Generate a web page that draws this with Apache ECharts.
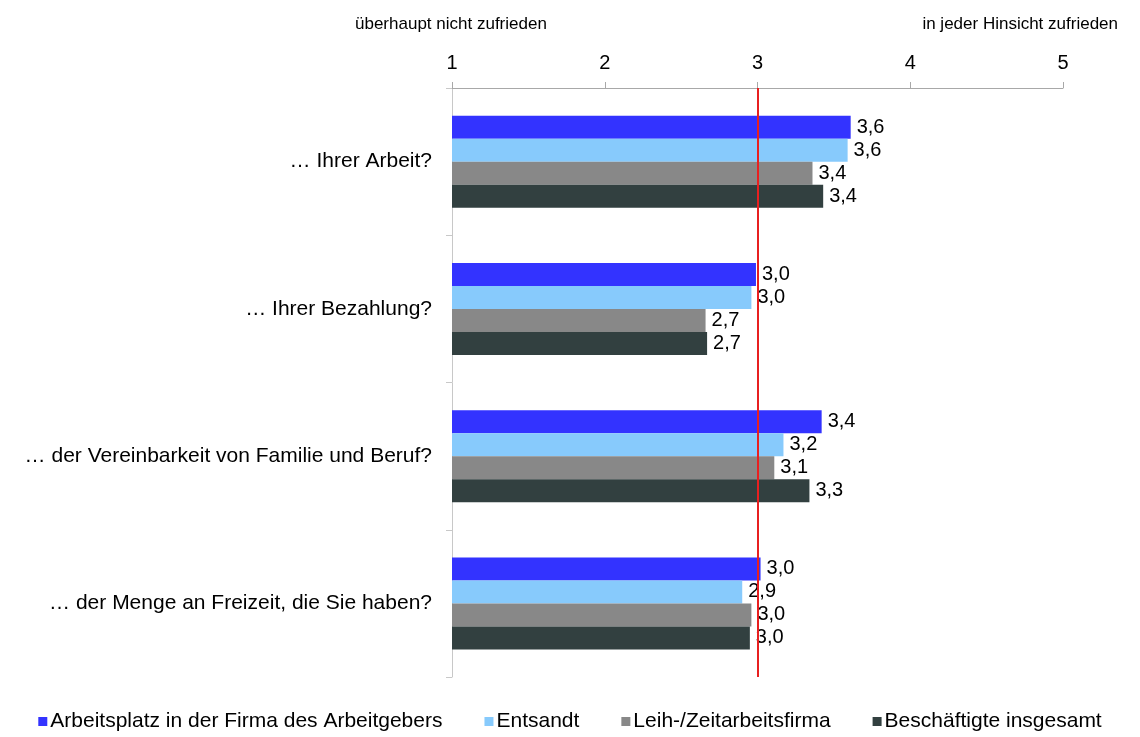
<!DOCTYPE html>
<html>
<head>
<meta charset="utf-8">
<script src="https://cdn.jsdelivr.net/npm/echarts@6/dist/echarts.min.js"></script>
<style>
  html, body { margin: 0; padding: 0; background: #fff; }
  #chart { width: 1140px; height: 737px; }
</style>
</head>
<body>
<div id="chart"></div>
<script>
const categories = [
  '… Ihrer Arbeit?',
  '… Ihrer Bezahlung?',
  '… der Vereinbarkeit von Familie und Beruf?',
  '… der Menge an Freizeit, die Sie haben?'
];
const seriesNames = [
  'Arbeitsplatz in der Firma des Arbeitgebers',
  'Entsandt',
  'Leih-/Zeitarbeitsfirma',
  'Beschäftigte insgesamt'
];
const arbeitsplatz = [3.61, 2.99, 3.42, 3.02];
const entsandt = [3.59, 2.96, 3.17, 2.90];
const leih = [3.36, 2.66, 3.11, 2.96];
const gesamt = [3.43, 2.67, 3.34, 2.95];
const colors = ['#3333ff', '#87cafc', '#888888', '#324040'];
const axisTicks = ['1', '2', '3', '4', '5'];
const refValue = 3;

const chart = echarts.init(document.getElementById('chart'));
const font = 'Liberation Sans, Arial, sans-serif';
const values = [arbeitsplatz, entsandt, leih, gesamt];

const series = values.map((data, i) => {
  const s = {
    name: seriesNames[i],
    type: 'bar',
    data: data,
    barWidth: 23,
    barGap: '0%',
    itemStyle: { color: colors[i] },
    label: {
      show: true,
      position: 'right',
      distance: 6,
      color: '#000',
      fontSize: 20,
      fontFamily: font,
      formatter: p => p.value.toFixed(1).replace('.', ',')
    }
  };
  if (i === 0) {
    s.markLine = {
      silent: true,
      symbol: 'none',
      label: { show: false },
      lineStyle: { color: '#e82020', width: 2, type: 'solid' },
      data: [{ xAxis: refValue }]
    };
  }
  return s;
});

const option = {
  animation: false,
  grid: { left: 452, right: 77, top: 88, bottom: 60 },
  xAxis: {
    type: 'value',
    position: 'top',
    min: 1,
    max: 5,
    interval: 1,
    axisLine: { show: true, lineStyle: { color: '#a8a8a8' } },
    axisTick: { show: true, length: 6, lineStyle: { color: '#a8a8a8' } },
    splitLine: { show: false },
    axisLabel: {
      color: '#000',
      fontSize: 20,
      fontFamily: font,
      margin: 15,
      formatter: v => axisTicks[v - 1]
    }
  },
  yAxis: {
    type: 'category',
    data: categories,
    inverse: true,
    axisLine: { show: true, lineStyle: { color: '#c8c8c8' } },
    axisTick: { show: true, length: 6, lineStyle: { color: '#c8c8c8' } },
    axisLabel: { color: '#000', fontSize: 21, fontFamily: font, margin: 20 }
  },
  legend: {
    bottom: 0,
    left: 'center',
    icon: 'rect',
    itemWidth: 9,
    itemHeight: 9,
    itemGap: 42,
    textStyle: { color: '#000', fontSize: 21, fontFamily: font, padding: [0, 0, 0, -2] },
    data: seriesNames
  },
  graphic: [
    { type: 'text', left: 355, top: 16, style: { text: 'überhaupt nicht zufrieden', fontSize: 17, fontFamily: font, fill: '#000' } },
    { type: 'text', right: 22, top: 16, style: { text: 'in jeder Hinsicht zufrieden', fontSize: 17, fontFamily: font, fill: '#000' } }
  ],
  series: series
};

chart.setOption(option);
</script>
</body>
</html>
